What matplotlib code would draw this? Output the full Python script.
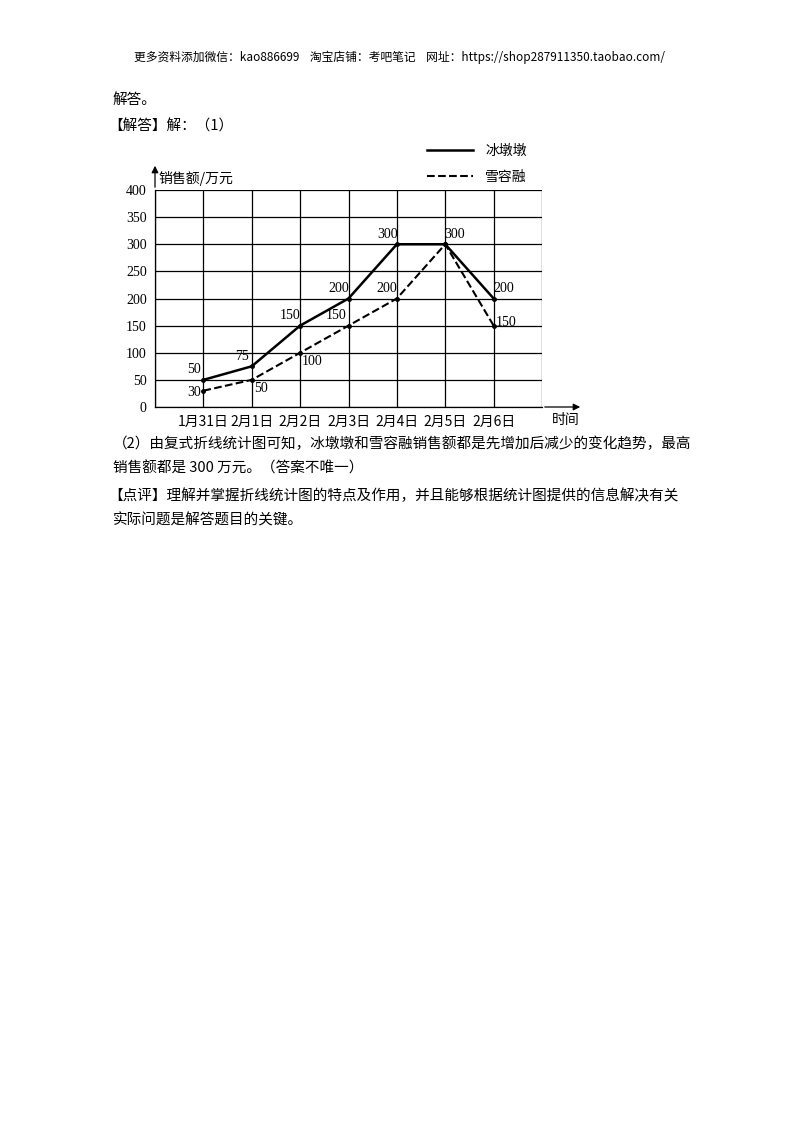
import matplotlib.pyplot as plt

plt.rcParams['font.family'] = ['Noto Sans CJK SC', 'DejaVu Sans']

dates = ['1月31日', '2月1日', '2月2日', '2月3日', '2月4日', '2月5日', '2月6日']
bing = [50, 75, 150, 200, 300, 300, 200]
xue = [30, 50, 100, 150, 200, 300, 150]
yticks = [0, 50, 100, 150, 200, 250, 300, 350, 400]

fig = plt.figure(figsize=(8, 11.32), dpi=100)
serif = ['Liberation Serif', 'Noto Sans CJK SC']

def txt(x, y, s, size=10.5, **kw):
    fig.text(x / 800, 1 - y / 1132, s, fontsize=size, va='center', **kw)

txt(400, 57, '更多资料添加微信：kao886699    淘宝店铺：考吧笔记    网址：https://shop287911350.taobao.com/', 8.5, ha='center')
txt(113, 100, '解答。')
txt(108, 127, '【解答】解：（1）')
txt(113, 444, '（2）由复式折线统计图可知，冰墩墩和雪容融销售额都是先增加后减少的变化趋势，最高')
txt(113, 468, '销售额都是 300 万元。（答案不唯一）')
txt(108, 496, '【点评】理解并掌握折线统计图的特点及作用，并且能够根据统计图提供的信息解决有关')
txt(113, 520, '实际问题是解答题目的关键。')

ax = fig.add_axes([155 / 800, 1 - 407 / 1132, 387 / 800, 217 / 1132])
xs = list(range(1, len(dates) + 1))
ax.plot(xs, bing, 'k-', lw=1.8, marker='o', ms=2.5)
ax.plot(xs, xue, 'k--', lw=1.5, marker='o', ms=2.5)
ax.set_xlim(0, 8)
ax.set_ylim(0, 400)
ax.set_xticks(range(0, 9))
ax.set_xticklabels([''] + dates + [''], fontsize=10)
ax.set_yticks(yticks)
ax.set_yticklabels([str(v) for v in yticks], family=serif, fontsize=10)
ax.tick_params(length=0, pad=6)
ax.grid(True, color='k', lw=0.9)
for s in ax.spines.values():
    s.set_linewidth(0.9)
ax.spines['top'].set_visible(False)
ax.spines['right'].set_visible(False)
ax.annotate('', xy=(583 / 800, 1 - 407 / 1132), xytext=(542 / 800, 1 - 407 / 1132),
            xycoords='figure fraction', arrowprops=dict(arrowstyle='-|>', color='k', lw=0.9))
ax.annotate('', xy=(155 / 800, 1 - 163 / 1132), xytext=(155 / 800, 1 - 190 / 1132),
            xycoords='figure fraction', arrowprops=dict(arrowstyle='-|>', color='k', lw=0.9))
txt(158, 178, '销售额/万元', 10)
txt(552, 420, '时间', 10)

for x, v, dx, dy in zip(xs, bing, [-0.2, -0.2, -0.2, -0.2, -0.2, 0.2, 0.2], [12] * 7):
    ax.text(x + dx, v + dy, str(v), ha='center', fontsize=10, family=serif)
for x, v, dx, dy in zip(xs, xue, [-0.2, 0.2, 0.25, -0.25, -0.2, 0, 0.25], [-10, -22, -22, 12, 12, 0, 0]):
    if x in (6,):
        continue
    ax.text(x + dx, v + dy, str(v), ha='center', fontsize=10, family=serif)

fig.lines.append(plt.Line2D([427 / 800, 473 / 800], [1 - 150 / 1132] * 2, color='k', lw=1.8, transform=fig.transFigure))
fig.lines.append(plt.Line2D([427 / 800, 473 / 800], [1 - 176 / 1132] * 2, color='k', lw=1.5, ls='--', transform=fig.transFigure))
txt(485, 151, '冰墩墩', 10)
txt(485, 177, '雪容融', 10)

fig.savefig('out.png')
